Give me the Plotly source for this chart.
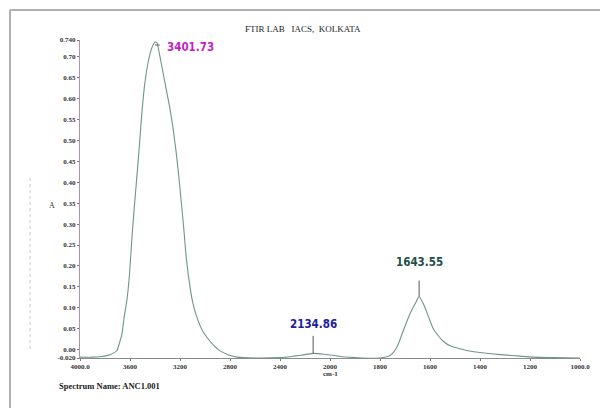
import plotly.graph_objects as go

# Spectrum (wavenumber cm-1, absorbance A)
wavenumber = [4000, 3900, 3840, 3760, 3720, 3704, 3688, 3664, 3648, 3624, 3604, 3584, 3560,
              3528, 3504, 3480, 3456, 3432, 3416, 3400, 3384, 3368, 3344, 3312, 3280, 3256,
              3232, 3210, 3192, 3170, 3150, 3120, 3096, 3056, 3020, 2984, 2936, 2880, 2816, 2744,
              2600, 2400, 2320, 2300, 2250, 2200, 2150, 2135, 2100, 2050, 2000, 1972, 1950,
              1900, 1868, 1800, 1760, 1733, 1707, 1680, 1653, 1644, 1627, 1600, 1587, 1573,
              1547, 1520, 1453, 1400, 1320, 1250, 1187, 1100, 1013, 1000]
absorbance = [-0.018, -0.018, -0.017, -0.012, -0.006, -0.002, 0.012, 0.038, 0.075, 0.12, 0.18,
              0.27, 0.36, 0.475, 0.57, 0.64, 0.685, 0.715, 0.728, 0.735, 0.733, 0.712, 0.675,
              0.625, 0.575, 0.53, 0.475, 0.415, 0.36, 0.29, 0.22, 0.15, 0.11, 0.07, 0.045,
              0.029, 0.012, -0.003, -0.012, -0.018, -0.02, -0.019, -0.017, -0.016, -0.014,
              -0.012, -0.0095, -0.009, -0.0095, -0.011, -0.013, -0.015, -0.017, -0.019, -0.02,
              -0.02, -0.014, 0.005, 0.045, 0.086, 0.117, 0.127, 0.11, 0.069, 0.05, 0.038, 0.02,
              0.009, -0.002, -0.007, -0.012, -0.015, -0.018, -0.019, -0.02, -0.02]

# Peak labels
peak_pos = [3401.73, 2134.86, 1643.55]
peak_abs = [0.735, -0.009, 0.127]
peak_text = ["3401.73", "2134.86", "1643.55"]
peak_colors = ["#c21fc4", "#2020a0", "#1f4f4a"]

# Axis ticks
x_left_ticks = [4000, 3600, 3200, 2800, 2400]
x_left_text = ["4000.0", "3600", "3200", "2800", "2400"]
x_right_ticks = [2000, 1800, 1600, 1400, 1200, 1000]
x_right_text = ["2000", "1800", "1600", "1400", "1200", "1000.0"]
y_ticks = [0.74, 0.70, 0.65, 0.60, 0.55, 0.50, 0.45, 0.40, 0.35, 0.30, 0.25, 0.20,
           0.15, 0.10, 0.05, 0.00, -0.02]
y_text = ["0.740", "0.70", "0.65", "0.60", "0.55", "0.50", "0.45", "0.40", "0.35", "0.30",
          "0.25", "0.20", "0.15", "0.10", "0.05", "0.00", "-0.020"]

line_color = "#6f958b"
serif = "Liberation Serif"
narrow = "DejaVu Sans Condensed, Liberation Sans Narrow, Arial Narrow, sans-serif"

left_x = [w for w in wavenumber if w >= 2000]
left_y = [a for w, a in zip(wavenumber, absorbance) if w >= 2000]
right_x = [w for w in wavenumber if w <= 2000]
right_y = [a for w, a in zip(wavenumber, absorbance) if w <= 2000]

fig = go.Figure()
fig.add_trace(go.Scatter(x=left_x, y=left_y, mode="lines", xaxis="x", yaxis="y",
                         line=dict(color=line_color, width=1.1, shape="spline", smoothing=0.6),
                         showlegend=False, hoverinfo="skip"))
fig.add_trace(go.Scatter(x=right_x, y=right_y, mode="lines", xaxis="x2", yaxis="y",
                         line=dict(color=line_color, width=1.1, shape="spline", smoothing=0.6),
                         showlegend=False, hoverinfo="skip"))

tick_font = dict(family=serif, size=7, color="#333", weight="bold")
axis_common = dict(showgrid=False, zeroline=False, showline=True, linecolor="#8a8a8a",
                   linewidth=1, ticks="outside", ticklen=2, tickcolor="#777",
                   tickfont=tick_font, tickmode="array")
fig.update_layout(
    width=600, height=400,
    margin=dict(l=72, r=28, t=32, b=50),
    paper_bgcolor="white", plot_bgcolor="white",
    xaxis=dict(domain=[0, 0.5], range=[4000, 2000], tickvals=x_left_ticks,
               ticktext=x_left_text, anchor="y", **axis_common),
    xaxis2=dict(domain=[0.5, 1], range=[2000, 1000], tickvals=x_right_ticks,
                ticktext=x_right_text, anchor="y", **axis_common),
    yaxis=dict(range=[-0.02, 0.74], tickvals=y_ticks, ticktext=y_text,
               showgrid=False, zeroline=False, showline=True, linecolor="#b58db5",
               linewidth=1, ticks="outside", ticklen=2, tickcolor="#777",
               tickfont=tick_font, tickmode="array"),
)

shapes = []
annotations = []
# 3401.73: short horizontal marker to the right
shapes.append(dict(type="line", xref="x", yref="y", x0=peak_pos[0], x1=peak_pos[0] - 40,
                   y0=peak_abs[0] - 0.007, y1=peak_abs[0] - 0.007,
                   line=dict(color="#666", width=1)))
annotations.append(dict(x=peak_pos[0] - 85, y=peak_abs[0] - 0.012, xref="x", yref="y",
                        text="<b>" + peak_text[0] + "</b>", showarrow=False, xanchor="left",
                        font=dict(family=narrow, size=11.5, color=peak_colors[0])))
# 2134.86 and 1643.55: vertical markers with label above
for i, xr, top, ty in [(1, "x", 0.033, 0.062), (2, "x2", 0.165, 0.21)]:
    shapes.append(dict(type="line", xref=xr, yref="y", x0=peak_pos[i], x1=peak_pos[i],
                       y0=peak_abs[i], y1=top, line=dict(color="#555", width=1)))
    annotations.append(dict(x=peak_pos[i], y=ty, xref=xr, yref="y",
                            text="<b>" + peak_text[i] + "</b>", showarrow=False,
                            font=dict(family=narrow, size=11.5, color=peak_colors[i])))

# frame lines (page border) and faint left dotted line
shapes.append(dict(type="line", xref="paper", yref="paper", x0=-0.14, x1=1.06,
                   y0=1.094, y1=1.094, layer="above", line=dict(color="#b0b0b0", width=2)))
shapes.append(dict(type="line", xref="paper", yref="paper", x0=-0.14, x1=-0.14,
                   y0=1.094, y1=-0.157, layer="above", line=dict(color="#b0b0b0", width=2)))
shapes.append(dict(type="line", xref="paper", yref="paper", x0=-0.1, x1=-0.1,
                   y0=0.566, y1=0.019, line=dict(color="#c8c8c8", width=1, dash="dot")))

annotations.append(dict(x=0.446, y=1.034, xref="paper", yref="paper", yanchor="middle",
                        text="FTIR LAB   IACS,  KOLKATA", showarrow=False,
                        font=dict(family=serif, size=9, color="#222")))
annotations.append(dict(x=-0.066, y=0.48, xref="paper", yref="paper", yanchor="middle",
                        text="A", showarrow=False,
                        font=dict(family=serif, size=8, color="#333")))
annotations.append(dict(x=2000, y=-0.05, xref="x2", yref="paper", text="cm-1",
                        showarrow=False, yanchor="middle",
                        font=dict(family=serif, size=7, color="#333", weight="bold")))
annotations.append(dict(x=-0.046, y=-0.088, xref="paper", yref="paper", yanchor="middle",
                        text="<b>Spectrum Name: ANC1.001</b>", showarrow=False,
                        xanchor="left", font=dict(family=serif, size=8.5, color="#222")))

fig.update_layout(shapes=shapes, annotations=annotations)
fig.write_html("out.html")
